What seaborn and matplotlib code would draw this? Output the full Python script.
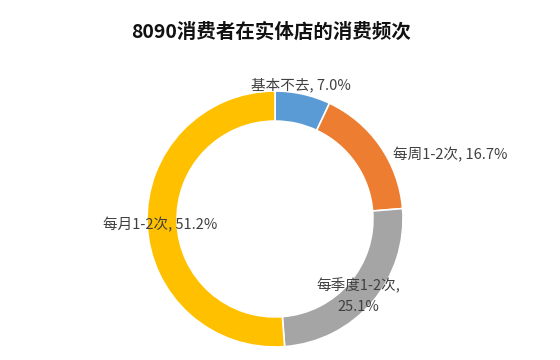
import matplotlib
matplotlib.use("Agg")
import matplotlib.pyplot as plt
import seaborn as sns

categories = ["基本不去", "每周1-2次", "每季度1-2次", "每月1-2次"]
values = [7.0, 16.7, 25.1, 51.2]
colors = ["#5B9BD5", "#ED7D31", "#A5A5A5", "#FFC000"]
title = "8090消费者在实体店的消费频次"

sns.set_theme(style="white")
plt.rcParams["font.family"] = ["Noto Sans CJK SC", "DejaVu Sans"]

fig = plt.figure(figsize=(5.6, 3.6), dpi=100)
ax = fig.add_axes([147 / 560, 13 / 360, 256 / 560, 256 / 360])
wedges, _ = ax.pie(values, colors=sns.color_palette(colors), startangle=90,
                   counterclock=False, radius=1.0,
                   wedgeprops=dict(width=0.235, edgecolor="white", linewidth=1.2))
ax.set_xlim(-1, 1)
ax.set_ylim(-1, 1)
ax.set_aspect("equal")
ax.axis("off")

lab = [f"{c}, {v:.1f}%" for c, v in zip(categories, values)]
tc = "#404040"
fs = 10.5
ax.text(0.20, 1.047, lab[0], ha="center", va="center", fontsize=fs, color=tc, clip_on=False)
ax.text(0.92, 0.5, lab[1], ha="left", va="center", fontsize=fs, color=tc, clip_on=False)
ax.text(0.65, -0.60, f"{categories[2]},\n{values[2]:.1f}%", ha="center", va="center",
        fontsize=fs, color=tc, linespacing=1.6, clip_on=False)
ax.text(-0.90, -0.047, lab[3], ha="center", va="center", fontsize=fs, color=tc, clip_on=False)

fig.text(271 / 560, 1 - 32 / 360, title, ha="center", va="center", fontsize=14,
         fontweight="bold", color="#111111")

fig.savefig("out.png", dpi=100, facecolor="white")
